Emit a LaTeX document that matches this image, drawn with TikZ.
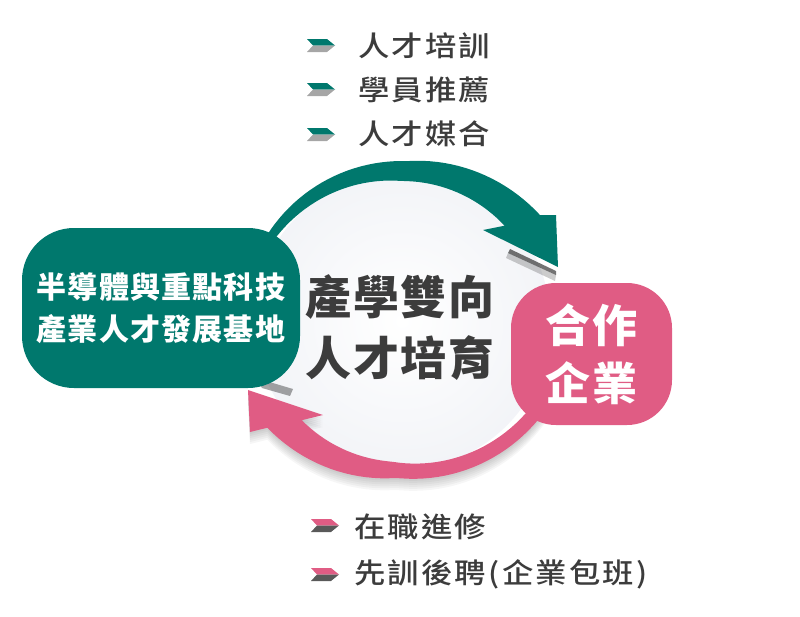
\documentclass[tikz,border=0pt]{standalone}
\usepackage{fontspec}
\newfontfamily\cjk{Noto Sans CJK TC}
\newfontfamily\cjkwide{Noto Sans CJK TC Medium}[LetterSpace=8,FakeStretch=1.12]
\newfontfamily\cjkbox{Noto Sans CJK TC}[LetterSpace=4]
\usetikzlibrary{positioning}
\definecolor{tealbase}{HTML}{00786D}
\definecolor{pinkbase}{HTML}{E05C84}
\definecolor{inkgray}{HTML}{3C3C3C}
\definecolor{chevgray}{HTML}{A6A6A6}
\definecolor{chevdark}{HTML}{595959}
\definecolor{circleedge}{HTML}{E6E9F0}
\tikzset{
    blob/.style = {rectangle, inner sep=0pt, text=white, align=center},
    item/.style = {anchor=west, inner sep=0pt, text=inkgray, font=\cjkwide\fontsize{28}{32}\selectfont},
    core/.style = {inner sep=0pt, text=inkgray, align=center, font=\cjkbox\bfseries\fontsize{46}{61}\selectfont},
    declare function={
        rto(\t)=max(160,160+(\t+88)*0.277);  % teal, outer edge
        rti(\t)=max(140,140-(\t+90)*0.2);    % teal, inner edge
        rpo(\t)=157+max(0,\t-92)*0.3+max(0,92-\t)*0.2; % pink, outer edge
        rpi(\t)=max(141,142+(90-\t)*0.232);  % pink, inner edge
    }
}
% chevron bullet: x, y, upper colour, lower colour
\newcommand{\Chev}[4]{
  \begin{scope}[shift={(#1,#2)}]
    \fill[#3] (-14,-6.5) -- (6,-6.5) -- (14,0) -- (-8,0) -- cycle;
    \fill[#4] (-8,0) -- (14,0) -- (6,6.5) -- (-14,6.5) -- cycle;
  \end{scope}
}
\newcommand{\PinkArc}{plot[domain=15:141.6,samples=50] ({402+rpo(\x)*cos(\x)},{321+rpo(\x)*sin(\x)})
  -- (250,432) -- (248,390) -- (323,415)
  -- plot[domain=135.3:15,samples=50] ({402+rpi(\x)*cos(\x)},{321+rpi(\x)*sin(\x)}) -- cycle}

\begin{document}
\begin{tikzpicture}[x=1pt,y=-1pt]
\useasboundingbox (0,0) rectangle (800,616);
% centre disc
\begin{scope}
  \clip (402,321) circle (148);
  \shade[inner color=white, outer color=circleedge] (402,321) circle (296);
\end{scope}
% shadows
\foreach \s in {2,4,...,12} {
  \fill[black, opacity=0.035, shift={(0,\s)}] \PinkArc;
}
\fill[black, opacity=0.55] (510,249) -- (556,271) -- (556,275) -- (508,253) -- cycle;
\fill[black, opacity=0.2] (508,253) -- (556,275) -- (555,281) -- (506,258) -- cycle;
\fill[black, opacity=0.35] (256,378) -- (293,389) -- (290,396) -- (262,388) -- cycle;
% arrows
\fill[tealbase] plot[domain=-160:-37.5,samples=50] ({402+rto(\x)*cos(\x)},{321+rto(\x)*sin(\x)})
  -- (556,215) -- (558,267) -- (483,230)
  -- plot[domain=-42.9:-160,samples=50] ({402+rti(\x)*cos(\x)},{321+rti(\x)*sin(\x)}) -- cycle;
\fill[pinkbase] \PinkArc;
% boxes
\node[blob, fill=tealbase, rounded corners=52pt, minimum width=278pt, minimum height=160pt,
      font=\cjkbox\bfseries\fontsize{30}{42}\selectfont] (base) at (161,308)
      {半導體與重點科技\\產業人才發展基地};
\node[blob, fill=pinkbase, rounded corners=45pt, minimum width=161pt, minimum height=142pt,
      font=\cjkbox\bfseries\fontsize{45}{58}\selectfont] (firm) at (591.5,354)
      {合作\\企業};
\node[core] (goal) at (400,327.5) {產學雙向\\人才培育};
% upper list
\Chev{321}{45.5}{tealbase}{chevgray}
\Chev{321}{89.5}{tealbase}{chevgray}
\Chev{321}{134.5}{tealbase}{chevgray}
\node[item] (up1) at (358,46) {人才培訓};
\node[item] (up2) at (358,90) {學員推薦};
\node[item] (up3) at (358,134) {人才媒合};
% lower list
\Chev{325}{525.5}{pinkbase}{chevdark}
\Chev{325}{574.5}{pinkbase}{chevdark}
\node[item] (lo1) at (354,527) {在職進修};
\node[item] (lo2) at (354,574) {先訓後聘(企業包班)};
\end{tikzpicture}
\end{document}
